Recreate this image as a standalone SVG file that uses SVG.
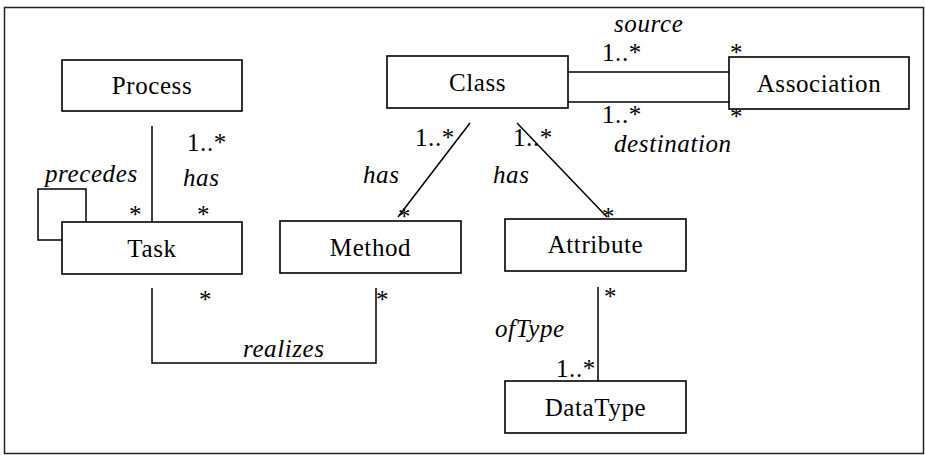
<svg xmlns="http://www.w3.org/2000/svg" width="925" height="455" viewBox="0 0 925 455">
<style>
.box{fill:#fff;stroke:#000;stroke-width:1.6}
.ln{fill:none;stroke:#000;stroke-width:1.5}
.nm{text-anchor:middle}
.it{font-style:italic}
</style>
<rect x="4.5" y="7.5" width="919" height="446" fill="#fff" stroke="#222" stroke-width="1.5"/>
<g id="connectors">
<path class="ln" d="M152 126V222"/>
<path class="ln" d="M62 240H38V189H86V222"/>
<path class="ln" d="M567 72H729"/>
<path class="ln" d="M568 102H731"/>
<path class="ln" d="M470 123L398 217"/>
<path class="ln" d="M517 123L607 217"/>
<path class="ln" d="M598 287V381"/>
<path class="ln" d="M152 288V363H376V288"/>
</g>
<g font-family="Liberation Serif, Tinos, Times New Roman, DejaVu Serif, serif" font-size="25" fill="#000" letter-spacing="0.6">
<g id="labels">
<text x="187" y="151">1..*</text>
<text x="183" y="186" class="it">has</text>
<text x="197" y="223">*</text>
<text x="129" y="223">*</text>
<text x="63" y="263">*</text>
<text x="45" y="182" class="it">precedes</text>
<text x="614" y="32" class="it">source</text>
<text x="602" y="61">1..*</text>
<text x="730" y="61">*</text>
<text x="602" y="123">1..*</text>
<text x="730" y="125">*</text>
<text x="614" y="152" class="it">destination</text>
<text x="415" y="146">1..*</text>
<text x="513" y="146">1..*</text>
<text x="363" y="183" class="it">has</text>
<text x="493" y="183" class="it">has</text>
<text x="398" y="225">*</text>
<text x="602" y="225">*</text>
<text x="604" y="305">*</text>
<text x="495" y="337" class="it">ofType</text>
<text x="556" y="377">1..*</text>
<text x="199" y="308">*</text>
<text x="376" y="308">*</text>
<text x="243" y="357" class="it">realizes</text>
</g>
<g id="process"><rect class="box" x="62" y="60" width="180" height="51"/><text class="nm" x="152" y="94">Process</text></g>
<g id="task"><rect class="box" x="62" y="222" width="180" height="52"/><text class="nm" x="152" y="257">Task</text></g>
<g id="class"><rect class="box" x="387" y="56" width="181" height="52"/><text class="nm" x="477.5" y="91">Class</text></g>
<g id="association"><rect class="box" x="729" y="57" width="180" height="52"/><text class="nm" x="819" y="92">Association</text></g>
<g id="method"><rect class="box" x="280" y="221" width="181" height="52"/><text class="nm" x="370.5" y="256">Method</text></g>
<g id="attribute"><rect class="box" x="505" y="219" width="181" height="52"/><text class="nm" x="595.5" y="253">Attribute</text></g>
<g id="datatype"><rect class="box" x="505" y="381" width="181" height="52"/><text class="nm" x="595.5" y="416">DataType</text></g>
</g>
</svg>
